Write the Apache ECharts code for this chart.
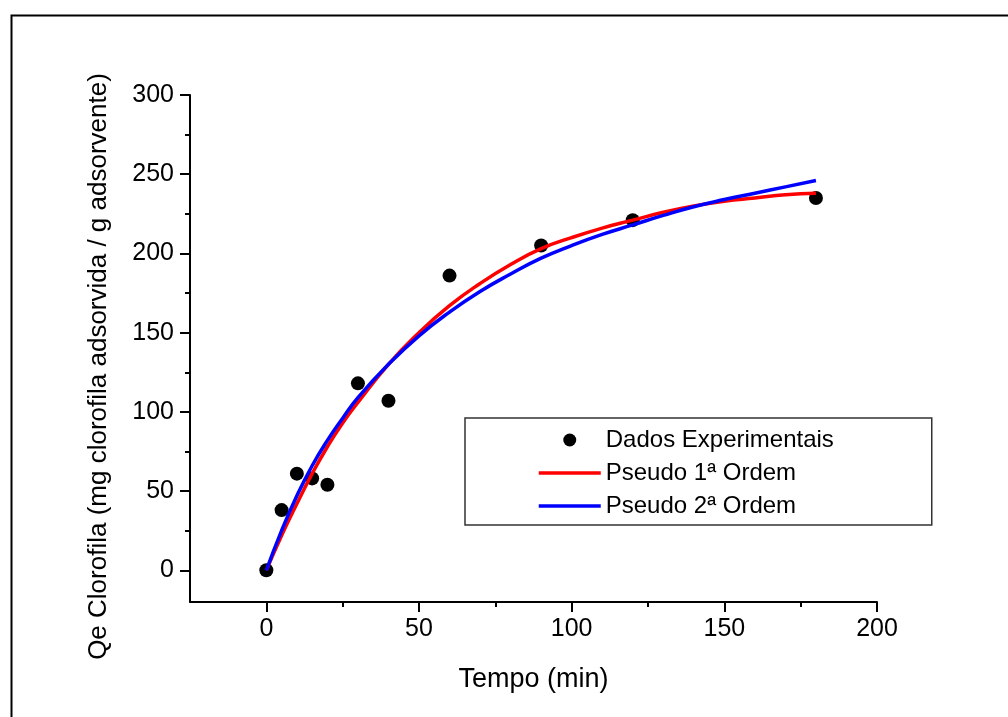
<!DOCTYPE html>
<html>
<head>
<meta charset="utf-8">
<script src="https://cdn.jsdelivr.net/npm/echarts@6/dist/echarts.min.js"></script>
<style>
  html, body { margin: 0; padding: 0; background: #fff; }
  #chart { width: 1008px; height: 717px; }
</style>
</head>
<body>
<div id="chart"></div>
<script>
// experimental points
var tempoExp = [0, 5, 10, 15, 20, 30, 40, 60, 90, 120, 180];
var qeExp = [0, 38, 61, 58, 54, 118, 107, 186, 205, 221, 235];

// fitted curves
var tempoFit = [0, 5, 10, 15, 20, 25, 30, 40, 50, 60, 70, 80, 90, 100, 110, 120, 130, 140, 150, 160, 170, 180];
var qePseudo1 = [0, 22, 42, 61, 78, 93, 106, 130, 150, 167, 181, 193, 203, 210, 216, 221, 226, 230, 233, 235, 237, 238];
var qePseudo2 = [0, 25, 47, 66, 82, 96, 109, 130, 148, 163, 176, 187, 197, 205, 212, 218, 224, 229.5, 234, 238, 242, 246];

// ticks
var xMajor = [0, 50, 100, 150, 200];
var xMinor = [25, 75, 125, 175];
var yMajor = [0, 50, 100, 150, 200, 250, 300];
var yMinor = [25, 75, 125, 175, 225, 275];

var legendNames = ['Dados Experimentais', 'Pseudo 1ª Ordem', 'Pseudo 2ª Ordem'];

function pairs(xs, ys) {
  return xs.map(function (x, i) { return [x, ys[i]]; });
}

var font = 'Liberation Sans, Arial, sans-serif';

var myChart = echarts.init(document.getElementById('chart'));
myChart.setOption({
  backgroundColor: '#fff',
  animation: false,
  textStyle: { fontFamily: font, color: '#000' },
  graphic: [{
    type: 'rect',
    left: 9,
    top: 13,
    shape: { width: 1100, height: 800 },
    style: { fill: 'none', stroke: '#000', lineWidth: 2 },
    silent: true
  }],
  grid: { left: 190, right: 131, top: 95, bottom: 115 },
  legend: {
    orient: 'vertical',
    left: 465,
    top: 418,
    padding: [10, 46, 7, 72],
    itemGap: 9,
    itemWidth: 62,
    itemHeight: 13,
    borderColor: '#333',
    borderWidth: 1.5,
    borderRadius: 0,
    backgroundColor: '#fff',
    textStyle: { fontFamily: font, fontSize: 24, lineHeight: 24, color: '#000', width: 280 },
    data: [
      { name: legendNames[0] },
      { name: legendNames[1], itemStyle: { opacity: 0 }, lineStyle: { width: 3.5 } },
      { name: legendNames[2], itemStyle: { opacity: 0 }, lineStyle: { width: 3.5 } }
    ]
  },
  xAxis: [{
    type: 'value',
    min: -25,
    max: 200,
    position: 'bottom',
    name: 'Tempo (min)',
    nameLocation: 'middle',
    nameGap: 64,
    nameTextStyle: { fontFamily: font, fontSize: 27, color: '#000' },
    splitLine: { show: false },
    axisLine: { show: true, onZero: false, lineStyle: { color: '#000', width: 2 } },
    axisTick: { show: true, customValues: xMajor, length: 10, lineStyle: { color: '#000', width: 2 } },
    axisLabel: { customValues: xMajor, fontFamily: font, fontSize: 25, color: '#000', margin: 15 }
  }, {
    type: 'value',
    min: -25,
    max: 200,
    position: 'bottom',
    splitLine: { show: false },
    axisLine: { show: false, onZero: false },
    axisTick: { show: true, customValues: xMinor, length: 5, lineStyle: { color: '#000', width: 2 } },
    axisLabel: { show: false }
  }],
  yAxis: [{
    type: 'value',
    min: -20,
    max: 300,
    position: 'left',
    name: 'Qe Clorofila (mg clorofila adsorvida / g adsorvente)',
    nameLocation: 'middle',
    nameGap: 78,
    nameTextStyle: { fontFamily: font, fontSize: 26, color: '#000', padding: [0, 36, 0, 0] },
    splitLine: { show: false },
    axisLine: { show: true, onZero: false, lineStyle: { color: '#000', width: 2 } },
    axisTick: { show: true, customValues: yMajor, length: 10, lineStyle: { color: '#000', width: 2 } },
    axisLabel: { customValues: yMajor, fontFamily: font, fontSize: 25, color: '#000', margin: 16 }
  }, {
    type: 'value',
    min: -20,
    max: 300,
    position: 'left',
    splitLine: { show: false },
    axisLine: { show: false, onZero: false },
    axisTick: { show: true, customValues: yMinor, length: 5, lineStyle: { color: '#000', width: 2 } },
    axisLabel: { show: false }
  }],
  series: [
    {
      name: 'Dados Experimentais',
      type: 'scatter',
      symbol: 'circle',
      symbolSize: 14,
      itemStyle: { color: '#000', opacity: 1 },
      data: pairs(tempoExp, qeExp),
      z: 2
    },
    {
      name: 'Pseudo 1ª Ordem',
      type: 'line',
      smooth: true,
      symbol: 'none',
      lineStyle: { color: '#ff0000', width: 3.5 },
      itemStyle: { color: '#ff0000' },
      data: pairs(tempoFit, qePseudo1),
      z: 3
    },
    {
      name: 'Pseudo 2ª Ordem',
      type: 'line',
      smooth: true,
      symbol: 'none',
      lineStyle: { color: '#0000ff', width: 3.5 },
      itemStyle: { color: '#0000ff' },
      data: pairs(tempoFit, qePseudo2),
      z: 4
    }
  ]
});
</script>
</body>
</html>
